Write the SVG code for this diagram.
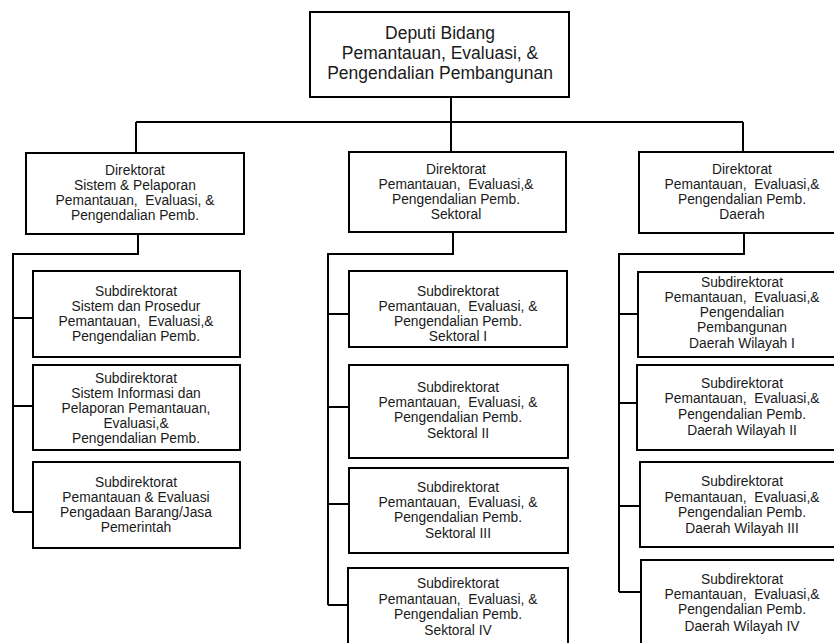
<svg xmlns="http://www.w3.org/2000/svg" width="834" height="643" viewBox="0 0 834 643">
  <style>
    .box { fill: #ffffff; stroke: #000000; stroke-width: 2; }
    .link { fill: none; stroke: #000000; stroke-width: 2; }
    text { font-family: "Liberation Sans", Arial, sans-serif; font-size: 13.8px; fill: #1a1a1a; text-anchor: middle; white-space: pre; }
    .big { font-size: 17.5px; }
  </style>
  <rect width="834" height="643" fill="#ffffff"/>

  <!-- connectors -->
  <g id="connectors" class="link">
    <path d="M451 97 V122 M136 122 H743 M136 122 V153 M451 122 V152 M743 122 V152"/>
    <!-- left branch -->
    <path d="M138 234 V254 H13 V512 M13 318 H33 M13 406 H33 M13 512 H33"/>
    <!-- middle branch -->
    <path d="M453 232 V254 H328 V605 M328 314 H349 M328 407 H349 M328 504 H349 M328 605 H348"/>
    <!-- right branch -->
    <path d="M744 233 V254 H619 V592 M619 314 H638 M619 403 H637 M619 506 H640 M619 592 H641"/>
  </g>

  <!-- top -->
  <g id="deputi">
    <rect class="box" x="310" y="12" width="259" height="85"/>
    <text class="big" x="440" y="39">Deputi Bidang</text>
    <text class="big" x="440" y="59">Pemantauan, Evaluasi, &amp;</text>
    <text class="big" x="440" y="79">Pengendalian Pembangunan</text>
  </g>

  <!-- left column -->
  <g id="dir-sistem">
    <rect class="box" x="26" y="153" width="218" height="81"/>
    <text x="135" y="175">Direktorat</text>
    <text x="135" y="190">Sistem &amp; Pelaporan</text>
    <text x="135" y="205">Pemantauan,  Evaluasi, &amp;</text>
    <text x="135" y="220">Pengendalian Pemb.</text>
  </g>
  <g id="sub-sistem-prosedur">
    <rect class="box" x="33" y="271" width="207" height="86"/>
    <text x="136" y="296">Subdirektorat</text>
    <text x="136" y="311">Sistem dan Prosedur</text>
    <text x="136" y="326">Pemantauan,  Evaluasi,&amp;</text>
    <text x="136" y="341">Pengendalian Pemb.</text>
  </g>
  <g id="sub-sistem-informasi">
    <rect class="box" x="33" y="365" width="207" height="85"/>
    <text x="136" y="383">Subdirektorat</text>
    <text x="136" y="398">Sistem Informasi dan</text>
    <text x="136" y="413">Pelaporan Pemantauan,</text>
    <text x="136" y="428">Evaluasi,&amp;</text>
    <text x="136" y="443">Pengendalian Pemb.</text>
  </g>
  <g id="sub-pengadaan">
    <rect class="box" x="33" y="462" width="207" height="86"/>
    <text x="136" y="487">Subdirektorat</text>
    <text x="136" y="502">Pemantauan &amp; Evaluasi</text>
    <text x="136" y="517">Pengadaan Barang/Jasa</text>
    <text x="136" y="532">Pemerintah</text>
  </g>

  <!-- middle column -->
  <g id="dir-sektoral">
    <rect class="box" x="349" y="152" width="217" height="80"/>
    <text x="456" y="174">Direktorat</text>
    <text x="456" y="189">Pemantauan,  Evaluasi,&amp;</text>
    <text x="456" y="204">Pengendalian Pemb.</text>
    <text x="456" y="219">Sektoral</text>
  </g>
  <g id="sub-sektoral-1">
    <rect class="box" x="349" y="271" width="218" height="76"/>
    <text x="458" y="296">Subdirektorat</text>
    <text x="458" y="311">Pemantauan,  Evaluasi, &amp;</text>
    <text x="458" y="326">Pengendalian Pemb.</text>
    <text x="458" y="341">Sektoral I</text>
  </g>
  <g id="sub-sektoral-2">
    <rect class="box" x="349" y="365" width="219" height="93"/>
    <text x="458" y="392">Subdirektorat</text>
    <text x="458" y="407">Pemantauan,  Evaluasi, &amp;</text>
    <text x="458" y="422">Pengendalian Pemb.</text>
    <text x="458" y="438">Sektoral II</text>
  </g>
  <g id="sub-sektoral-3">
    <rect class="box" x="349" y="468" width="219" height="85"/>
    <text x="458" y="492">Subdirektorat</text>
    <text x="458" y="507">Pemantauan,  Evaluasi, &amp;</text>
    <text x="458" y="522">Pengendalian Pemb.</text>
    <text x="458" y="538">Sektoral III</text>
  </g>
  <g id="sub-sektoral-4">
    <rect class="box" x="348" y="568" width="220" height="100"/>
    <text x="458" y="588">Subdirektorat</text>
    <text x="458" y="604">Pemantauan,  Evaluasi, &amp;</text>
    <text x="458" y="619">Pengendalian Pemb.</text>
    <text x="458" y="635">Sektoral IV</text>
  </g>

  <!-- right column -->
  <g id="dir-daerah">
    <rect class="box" x="639" y="152" width="210" height="81"/>
    <text x="742" y="174">Direktorat</text>
    <text x="742" y="189">Pemantauan,  Evaluasi,&amp;</text>
    <text x="742" y="204">Pengendalian Pemb.</text>
    <text x="742" y="219">Daerah</text>
  </g>
  <g id="sub-daerah-1">
    <rect class="box" x="638" y="272" width="212" height="85"/>
    <text x="742" y="287">Subdirektorat</text>
    <text x="742" y="302">Pemantauan,  Evaluasi,&amp;</text>
    <text x="742" y="317">Pengendalian</text>
    <text x="742" y="332">Pembangunan</text>
    <text x="742" y="348">Daerah Wilayah I</text>
  </g>
  <g id="sub-daerah-2">
    <rect class="box" x="637" y="365" width="213" height="85"/>
    <text x="742" y="388">Subdirektorat</text>
    <text x="742" y="403">Pemantauan,  Evaluasi,&amp;</text>
    <text x="742" y="419">Pengendalian Pemb.</text>
    <text x="742" y="435">Daerah Wilayah II</text>
  </g>
  <g id="sub-daerah-3">
    <rect class="box" x="640" y="462" width="210" height="85"/>
    <text x="742" y="486">Subdirektorat</text>
    <text x="742" y="502">Pemantauan,  Evaluasi,&amp;</text>
    <text x="742" y="517">Pengendalian Pemb.</text>
    <text x="742" y="533">Daerah Wilayah III</text>
  </g>
  <g id="sub-daerah-4">
    <rect class="box" x="641" y="560" width="209" height="100"/>
    <text x="742" y="584">Subdirektorat</text>
    <text x="742" y="599">Pemantauan,  Evaluasi,&amp;</text>
    <text x="742" y="614">Pengendalian Pemb.</text>
    <text x="742" y="631">Daerah Wilayah IV</text>
  </g>
</svg>
